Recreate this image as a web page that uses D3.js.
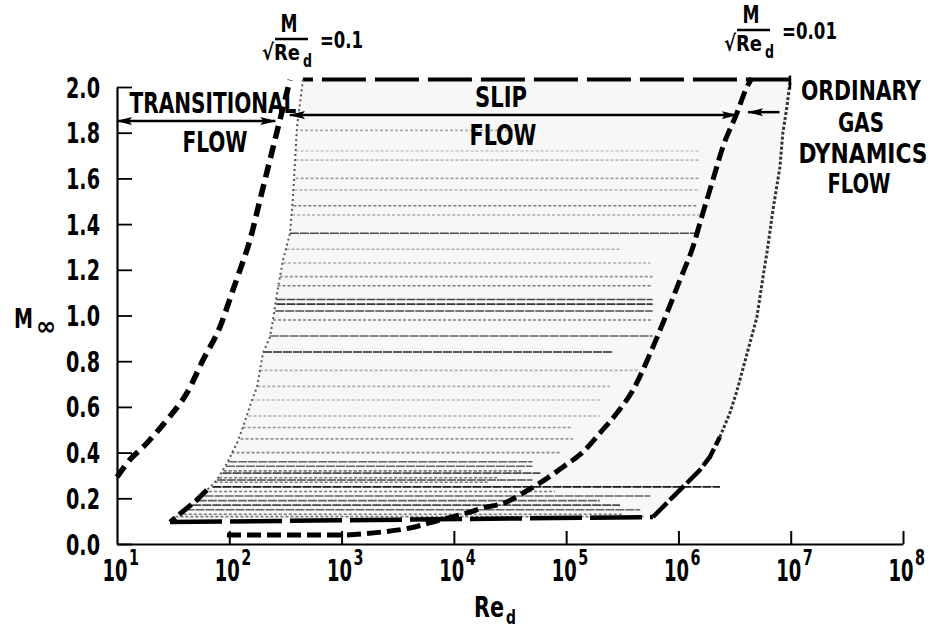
<!DOCTYPE html>
<html>
<head>
<meta charset="utf-8">
<script src="https://cdn.jsdelivr.net/npm/d3@7"></script>
<style>
  body { margin: 0; background: #fff; }
  text { font-family: "Liberation Sans Narrow", "DejaVu Sans Condensed", "Arial Narrow", sans-serif; font-weight: bold; fill: #000; }
</style>
</head>
<body>
<script>
// axis values
var xExponents = [1, 2, 3, 4, 5, 6, 7, 8];
var yTicks = [0.0, 0.2, 0.4, 0.6, 0.8, 1.0, 1.2, 1.4, 1.6, 1.8, 2.0];

// M/sqrt(Re_d) = 0.1 line, [log10 Re_d, M]
var curveTenth = [[1.0, 0.293], [1.089, 0.354], [1.267, 0.442], [1.445, 0.543], [1.623, 0.661],
  [1.766, 0.805], [1.917, 0.950], [2.033, 1.112], [2.095, 1.199], [2.184, 1.330],
  [2.273, 1.505], [2.362, 1.681], [2.451, 1.856], [2.541, 2.031]];

// M/sqrt(Re_d) = 0.01 line
var curveHundredth = [[1.980, 0.039], [2.959, 0.039], [3.369, 0.053], [3.609, 0.070], [3.876, 0.105],
  [4.117, 0.136], [4.259, 0.158], [4.473, 0.184], [4.615, 0.223], [4.767, 0.267],
  [4.972, 0.337], [5.150, 0.403], [5.301, 0.486], [5.452, 0.573], [5.595, 0.674],
  [5.773, 0.862], [5.898, 1.011], [6.013, 1.155], [6.129, 1.300], [6.218, 1.449],
  [6.307, 1.593], [6.395, 1.737], [6.521, 1.886], [6.610, 2.000], [6.654, 2.039]];

// envelope of the test data
var envTop = [[6.993, 2.033], [2.656, 2.033]];
var envLeft = [[2.656, 2.033], [2.603, 1.825], [2.567, 1.519], [2.541, 1.361], [2.478, 1.243],
  [2.425, 1.098], [2.389, 0.980], [2.362, 0.906], [2.300, 0.836], [2.247, 0.687],
  [2.202, 0.630], [2.122, 0.512], [2.069, 0.442], [1.980, 0.354], [1.890, 0.280], [1.801, 0.236]];
var envLowLeft = [[1.801, 0.236], [1.712, 0.193], [1.472, 0.096]];
var envBottom = [[1.472, 0.096], [5.773, 0.118]];
var envLowRight = [[5.773, 0.118], [5.951, 0.206], [6.076, 0.267], [6.191, 0.324], [6.280, 0.381], [6.369, 0.468]];
var envRight = [[6.369, 0.468], [6.458, 0.573], [6.521, 0.670], [6.637, 0.880], [6.699, 0.993],
  [6.753, 1.168], [6.788, 1.274], [6.842, 1.462], [6.904, 1.650], [6.930, 1.799],
  [6.966, 1.912], [6.993, 2.018], [6.993, 2.033]];

// data streaks inside the envelope: M, log Re from, log Re to, darkness
var streakM    = [1.81, 1.72, 1.68, 1.60, 1.55, 1.48, 1.44, 1.36, 1.29, 1.23, 1.17, 1.13, 1.07, 1.05, 1.02, 0.98, 0.91, 0.84,
                  0.76, 0.69, 0.63, 0.56, 0.51, 0.46, 0.40, 0.36, 0.34, 0.32, 0.31, 0.29, 0.28, 0.27, 0.25, 0.23,
                  0.21, 0.19, 0.17, 0.15, 0.13, 0.12];
var streakFrom = [2.63, 2.59, 2.59, 2.59, 2.58, 2.57, 2.56, 2.54, 2.51, 2.48, 2.45, 2.43, 2.42, 2.42, 2.41, 2.39, 2.36, 2.30,
                  2.27, 2.25, 2.20, 2.17, 2.12, 2.10, 2.02, 1.99, 1.97, 1.95, 1.94, 1.91, 1.89, 1.87, 1.85, 1.82,
                  1.78, 1.72, 1.67, 1.61, 1.55, 1.52];
var streakTo   = [4.59, 6.19, 6.19, 6.19, 6.19, 6.16, 6.19, 6.16, 5.48, 5.75, 5.77, 5.77, 5.77, 5.77, 5.77, 5.77, 5.77, 5.42,
                  5.66, 5.39, 5.30, 5.30, 5.06, 5.06, 4.95, 4.70, 4.70, 4.60, 4.77, 4.40, 4.70, 4.30, 6.37, 4.90,
                  5.75, 5.30, 5.48, 5.66, 5.50, 5.70];
var streakDark = [0.3, 0.2, 0.25, 0.35, 0.25, 0.5, 0.3, 0.7, 0.3, 0.3, 0.4, 0.5, 0.7, 0.8, 0.7, 0.5, 0.6, 0.85,
                  0.3, 0.3, 0.25, 0.3, 0.4, 0.4, 0.45, 0.6, 0.6, 0.5, 0.7, 0.5, 0.7, 0.5, 0.9, 0.5,
                  0.6, 0.6, 0.7, 0.6, 0.5, 0.5];

// regime arrows: [log Re from, log Re to, M]
var arrowTransitional = [1.0, 2.41, 1.851];
var arrowSlip = [2.54, 6.52, 1.877];
var arrowOrdinary = [6.90, 6.62, 1.89];

var W = 933, H = 630;
var svg = d3.select("body").append("svg").attr("width", W).attr("height", H);

var x = d3.scaleLog().domain([1e1, 1e8]).range([117, 903]);
var y = d3.scaleLinear().domain([0, 2]).range([544, 87]);

function px(d) { return x(Math.pow(10, d[0])); }
function py(d) { return y(d[1]); }

// text squeezed to a given width, to look like the narrow lettering of the original
function txt(x0, y0, s, size, width, anchor) {
  var t = svg.append("text").style("font-size", size + "px").text(s);
  var w = t.node().getComputedTextLength();
  var k = width / w;
  var dx = anchor === "middle" ? -width / 2 : (anchor === "end" ? -width : 0);
  t.attr("transform", "translate(" + (x0 + dx) + "," + y0 + ") scale(" + k + ",1)");
  return t;
}

var defs = svg.append("defs");
defs.append("marker").attr("id", "head")
    .attr("viewBox", "0 0 16 8").attr("refX", 15).attr("refY", 4)
    .attr("markerWidth", 16).attr("markerHeight", 8).attr("markerUnits", "userSpaceOnUse")
    .attr("orient", "auto-start-reverse")
  .append("path").attr("d", "M0,0 L16,4 L0,8 L3,4 z").attr("fill", "#000");

// envelope fill
var envAll = envLeft.concat(envLowLeft.slice(1), envBottom.slice(1), envLowRight.slice(1), envRight.slice(1), envTop.slice(1));
var line = d3.line().x(px).y(py);
svg.append("path").attr("d", line(envAll) + "Z").attr("fill", "#f7f7f7");

// streaks
streakM.forEach(function(m, i) {
  svg.append("line")
     .attr("x1", x(Math.pow(10, streakFrom[i])))
     .attr("x2", x(Math.pow(10, streakTo[i])))
     .attr("y1", y(m)).attr("y2", y(m))
     .attr("stroke", "#000")
     .attr("stroke-opacity", streakDark[i])
     .attr("stroke-width", 1.6)
     .attr("stroke-dasharray", streakDark[i] > 0.55 ? "9,1" : "3,2");
});

// envelope edges
function edge(data, w, dash, col) {
  svg.append("path").attr("d", line(data)).attr("fill", "none")
     .attr("stroke", col || "#000").attr("stroke-width", w).attr("stroke-dasharray", dash);
}
edge(envTop, 4, "44,9");
edge(envLeft, 2, "2,3", "#555");
edge(envLowLeft, 5, "16,5");
edge(envBottom, 4.5, "52,8");
edge(envLowRight, 4.5, "20,4");
edge(envRight, 3, "3,2", "#333");
svg.append("line")
   .attr("x1", x(Math.pow(10, 6.993))).attr("x2", x(Math.pow(10, 6.993)))
   .attr("y1", y(2.05)).attr("y2", y(1.99))
   .attr("stroke", "#000").attr("stroke-width", 2.5);

// theory lines
var smooth = d3.line().x(px).y(py).curve(d3.curveMonotoneX);
svg.append("path").attr("d", smooth(curveTenth)).attr("fill", "none")
   .attr("stroke", "#000").attr("stroke-width", 5.5).attr("stroke-dasharray", "13,7");
svg.append("path").attr("d", smooth(curveHundredth)).attr("fill", "none")
   .attr("stroke", "#000").attr("stroke-width", 5).attr("stroke-dasharray", "14,6");

// axes
var yAxis = d3.axisLeft(y).tickValues(yTicks).tickFormat(d3.format(".1f"))
    .tickSizeInner(-15).tickSizeOuter(0).tickPadding(17);
var gy = svg.append("g").attr("transform", "translate(117,0)").call(yAxis);
gy.select(".domain").attr("stroke-width", 2.2);
gy.selectAll(".tick line").attr("stroke-width", 1.8);
gy.selectAll(".tick text").style("font-size", "28px").attr("dy", "0.36em").attr("x", 0)
  .attr("transform", function() {
    var k = 34 / this.getComputedTextLength();
    return "translate(-17,0) scale(" + k + ",1)";
  });

var xAxis = d3.axisBottom(x).tickValues(xExponents.map(function(e) { return Math.pow(10, e); }))
    .tickFormat("").tickSizeInner(-13).tickSizeOuter(0);
var gx = svg.append("g").attr("transform", "translate(0,544)").call(xAxis);
gx.select(".domain").attr("stroke-width", 2.2);
gx.selectAll(".tick line").attr("stroke-width", 2);
gx.selectAll(".tick").filter(function(d) { return d === 10; }).select("line").remove();

xExponents.forEach(function(e) {
  var cx = x(Math.pow(10, e));
  txt(cx - 2, 581, "10", 31, 25, "middle");
  txt(cx + 12, 565, String(e), 21, 10, "start");
});

// axis titles
txt(14, 328, "M", 27, 19, "start");
txt(36, 335, "\u221e", 26, 20, "start");
txt(474, 617, "Re", 28, 30, "start");
txt(506, 624, "d", 19, 10, "start");

// fraction labels
function fraction(cx, top, eq, eqw) {
  txt(cx, top + 18, "M", 24, 17, "middle");
  svg.append("line").attr("x1", cx - 14).attr("x2", cx + 19).attr("y1", top + 25).attr("y2", top + 25)
     .attr("stroke", "#000").attr("stroke-width", 2.5);
  txt(cx - 27, top + 46, "\u221aRe", 22, 38, "start");
  txt(cx + 14, top + 53, "d", 17, 9, "start");
  txt(cx + 31, top + 34, eq, 23, eqw, "start");
}
fraction(289, 14, "=0.1", 43);
fraction(751, 5, "=0.01", 55);

// regime labels
txt(213, 113, "TRANSITIONAL", 29, 167, "middle");
txt(215, 152, "FLOW", 29, 65, "middle");
txt(501, 107, "SLIP", 29, 52, "middle");
txt(503, 145, "FLOW", 29, 67, "middle");
txt(861, 100, "ORDINARY", 26, 120, "middle");
txt(861, 132, "GAS", 26, 46, "middle");
txt(863, 163, "DYNAMICS", 26, 129, "middle");
txt(859, 193, "FLOW", 26, 63, "middle");

// arrows
function arrow(a, both) {
  var l = svg.append("line")
     .attr("x1", x(Math.pow(10, a[0]))).attr("x2", x(Math.pow(10, a[1])))
     .attr("y1", y(a[2])).attr("y2", y(a[2]))
     .attr("stroke", "#000").attr("stroke-width", 2.5)
     .attr("marker-end", "url(#head)");
  if (both) l.attr("marker-start", "url(#head)");
}
arrow(arrowTransitional, true);
arrow(arrowSlip, true);
arrow(arrowOrdinary, false);
</script>
</body>
</html>
